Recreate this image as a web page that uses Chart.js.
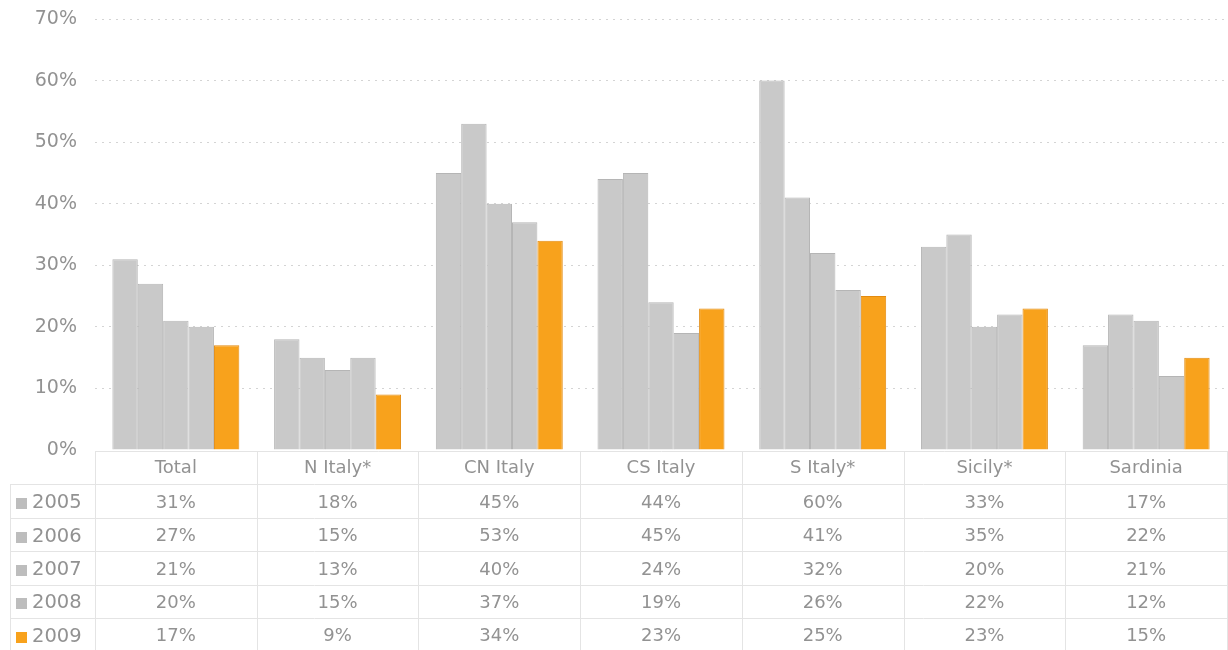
<!DOCTYPE html>
<html>
<head>
<meta charset="utf-8">
<script src="https://cdn.jsdelivr.net/npm/chart.js@4/dist/chart.umd.min.js"></script>
<style>
  html, body { margin: 0; padding: 0; background: #ffffff; }
  #wrap { width: 1228px; height: 650px; position: relative; }
</style>
</head>
<body>
<div id="wrap"><canvas id="c" width="1228" height="650"></canvas></div>
<script>
const categories = ['Total', 'N Italy*', 'CN Italy', 'CS Italy', 'S Italy*', 'Sicily*', 'Sardinia'];
const years = ['2005', '2006', '2007', '2008', '2009'];
const v2005 = [31, 18, 45, 44, 60, 33, 17];
const v2006 = [27, 15, 53, 45, 41, 35, 22];
const v2007 = [21, 13, 40, 24, 32, 20, 21];
const v2008 = [20, 15, 37, 19, 26, 22, 12];
const v2009 = [17, 9, 34, 23, 25, 23, 15];
const yMax = 70;
const yStep = 10;

const seriesValues = [v2005, v2006, v2007, v2008, v2009];
const GRAY = '#c9c9c9', GRAY_B = '#b5b5b5', ORANGE = '#f8a21c', ORANGE_B = '#e38b10';
const TEXT = '#929292';
const FONT = '"DejaVu Sans", sans-serif';

const datasets = years.map((y, i) => ({
  label: y,
  data: seriesValues[i],
  backgroundColor: i === 4 ? ORANGE : GRAY,
  borderColor: i === 4 ? ORANGE_B : GRAY_B,
  borderWidth: 1,
  borderSkipped: 'bottom',
  categoryPercentage: 0.785,
  barPercentage: 1.0
}));

const tablePlugin = {
  id: 'dataTable',
  afterDraw(chart) {
    const ctx = chart.ctx;
    const xs = chart.scales.x;
    const area = chart.chartArea;
    const n = categories.length;
    const colW = area.width / n;
    const top = area.bottom + 1;
    const rowH = 33.4;
    const leftX = 10;
    const rightX = chart.width;
    ctx.save();
    ctx.strokeStyle = '#e4e4e4';
    ctx.lineWidth = 1;
    ctx.beginPath();
    ctx.moveTo(area.left, Math.round(top) + 0.5);
    ctx.lineTo(rightX, Math.round(top) + 0.5);
    ctx.stroke();
    for (let r = 1; r <= years.length; r++) {
      const y = Math.round(top + r * rowH) + 0.5;
      ctx.beginPath();
      ctx.moveTo(leftX, y);
      ctx.lineTo(rightX, y);
      ctx.stroke();
    }
    for (let i = 0; i <= n; i++) {
      const cx = xs.getPixelForValue(Math.min(i, n - 1));
      const x = Math.round(i < n ? cx - colW / 2 : cx + colW / 2) + 0.5;
      ctx.beginPath();
      ctx.moveTo(x, top);
      ctx.lineTo(x, chart.height);
      ctx.stroke();
    }
    ctx.beginPath();
    ctx.moveTo(leftX + 0.5, top + rowH);
    ctx.lineTo(leftX + 0.5, chart.height);
    ctx.stroke();

    ctx.fillStyle = TEXT;
    ctx.font = '18px ' + FONT;
    ctx.textAlign = 'center';
    ctx.textBaseline = 'middle';
    categories.forEach((c, i) => {
      ctx.fillText(c, xs.getPixelForValue(i), top + rowH / 2 + 1);
    });
    seriesValues.forEach((vals, r) => {
      const cy = top + (r + 1.5) * rowH + 2;
      ctx.textAlign = 'center';
      ctx.fillStyle = TEXT;
      ctx.font = '18px ' + FONT;
      vals.forEach((v, i) => {
        ctx.fillText(v + '%', xs.getPixelForValue(i), cy);
      });
      ctx.fillStyle = r === 4 ? ORANGE : '#bdbdbd';
      ctx.fillRect(16, Math.round(cy - 5), 11, 11);
      ctx.fillStyle = TEXT;
      ctx.textAlign = 'left';
      ctx.font = '19.5px ' + FONT;
      ctx.fillText(years[r], 32, cy);
    });
    ctx.restore();
  }
};

new Chart(document.getElementById('c'), {
  type: 'bar',
  data: { labels: categories, datasets },
  options: {
    responsive: false,
    animation: false,
    devicePixelRatio: 1,
    layout: { padding: { top: 19, bottom: 200, left: 0, right: 1 } },
    plugins: { legend: { display: false }, tooltip: { enabled: false } },
    scales: {
      x: {
        display: false
      },
      y: {
        min: 0,
        max: yMax,
        afterFit(scale) {
          scale.width = 95;
          scale.paddingTop = 0;
          scale.paddingBottom = 0;
        },
        ticks: {
          stepSize: yStep,
          padding: 18,
          color: TEXT,
          font: { family: FONT, size: 19 },
          callback: v => v + '%'
        },
        grid: {
          drawTicks: false,
          color: ctx => (ctx.tick && ctx.tick.value === 0) ? 'rgba(0,0,0,0)' : '#d4d4d4',
          lineWidth: 1
        },
        border: { display: false, dash: [2, 5] }
      }
    }
  },
  plugins: [tablePlugin]
});
</script>
</body>
</html>
